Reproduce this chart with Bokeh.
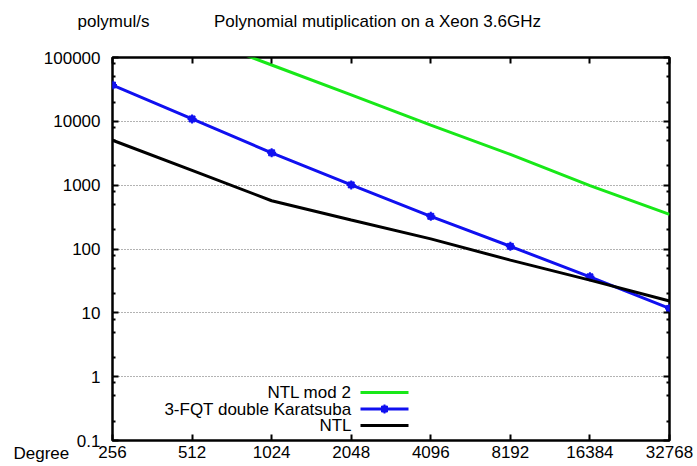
from bokeh.plotting import figure
from bokeh.models import Range1d, FixedTicker, CustomJSTickFormatter, LogAxis, Label
from bokeh.core.properties import value
from bokeh.embed import file_html
from bokeh.resources import INLINE

# ---- data ----
degrees = [256, 512, 1024, 2048, 4096, 8192, 16384, 32768]
fqt_karatsuba = [37000, 10900, 3210, 1010, 325, 110, 36.6, 11.7]
ntl = [5060, 1710, 570, 285, 144, 67, 32.5, 15.3]
ntl_mod2_degrees = [512, 1024, 2048, 4096, 8192, 16384, 32768]
ntl_mod2 = [225000, 76300, 25900, 8730, 3030, 985, 349]

series_names = ["NTL mod 2", "3-FQT double Karatsuba", "NTL"]
series_colors = ["#18e818", "#1010f0", "#000000"]
x_ticks = [256, 512, 1024, 2048, 4096, 8192, 16384, 32768]
y_ticks = [0.1, 1, 10, 100, 1000, 10000, 100000]
y_minor = [m * 10.0 ** e for e in range(-1, 5) for m in (2, 5, 8)]
title_text = "Polynomial mutiplication on a Xeon 3.6GHz"
ylabel_text = "polymul/s"
xlabel_text = "Degree"

W, H = 697, 466
L, R, T, B = 112, 28, 54, 26
FW, FH = W - L - R, H - T - B
FONT = "Liberation Sans"
FS = "17px"

XMIN, XMAX, YMIN, YMAX = 256, 32768, 0.1, 100000


def px_to_x(px):
    return XMIN * 2 ** ((px - L) / FW * 7)


def py_to_y(py):
    return 10 ** (5 - (py - T) / FH * 6)


def outside_label(px, py, text, align):
    # positioned through the data scales, so the panel it sits in does not matter
    return Label(x=px_to_x(px), y=py_to_y(py), text=text,
                 text_align=align, text_baseline="middle", text_font=FONT,
                 text_font_size=FS, text_color="black", text_line_height=0.85)


p = figure(width=W, height=H, x_axis_type="log", y_axis_type="log",
           x_range=Range1d(XMIN, XMAX), y_range=Range1d(YMIN, YMAX),
           output_backend="svg", toolbar_location=None,
           min_border_left=L, min_border_right=R, min_border_top=T, min_border_bottom=B)
p.background_fill_color = "white"
p.border_fill_color = "white"
p.outline_line_color = "black"
p.outline_line_width = 2.5

fmt = CustomJSTickFormatter(code="return tick < 1 ? tick.toFixed(1) : tick.toFixed(0);")
blank = CustomJSTickFormatter(code="return '';")

xt = FixedTicker(ticks=x_ticks, minor_ticks=[])
yt = FixedTicker(ticks=y_ticks, minor_ticks=y_minor)

for ax in (p.xaxis[0], p.yaxis[0]):
    ax.axis_line_color = None
    ax.major_tick_in = 6
    ax.major_tick_out = 0
    ax.minor_tick_in = 3
    ax.minor_tick_out = 0
    ax.major_tick_line_width = 2
    ax.minor_tick_line_width = 2
    ax.major_label_text_font = FONT
    ax.major_label_text_font_size = FS
    ax.major_label_text_color = "black"
    ax.formatter = fmt

p.xaxis[0].ticker = xt
p.yaxis[0].ticker = yt
p.xaxis[0].major_label_standoff = 5
p.yaxis[0].major_label_standoff = 12

top = LogAxis(ticker=xt, formatter=blank, axis_line_color=None, major_tick_in=6, major_tick_out=0,
              minor_tick_in=0, minor_tick_out=0, major_tick_line_width=2,
              major_label_standoff=0, major_label_text_font_size="1px")
right = LogAxis(ticker=yt, formatter=blank, axis_line_color=None, major_tick_in=6, major_tick_out=0,
                minor_tick_in=3, minor_tick_out=0, major_tick_line_width=2,
                minor_tick_line_width=2, major_label_standoff=0, major_label_text_font_size="1px")
p.add_layout(top, "above")
p.add_layout(right, "right")

p.xgrid.visible = False
p.ygrid.ticker = FixedTicker(ticks=y_ticks[1:-1])
p.ygrid.grid_line_color = "#666666"
p.ygrid.grid_line_dash = "1 2"
p.ygrid.grid_line_width = 1

# ---- series ----
p.line(ntl_mod2_degrees, ntl_mod2, line_color=series_colors[0], line_width=3)
p.line(degrees, fqt_karatsuba, line_color=series_colors[1], line_width=3)
p.scatter(degrees, fqt_karatsuba, marker="square", size=6, fill_color=series_colors[1],
          line_color=series_colors[1])
p.scatter(degrees, fqt_karatsuba, marker="cross", size=9, line_color=series_colors[1], line_width=2)
p.line(degrees, ntl, line_color=series_colors[2], line_width=3)

# ---- legend (gnuplot style: text right-aligned, sample to the right) ----
rows_py = [391.7, 408.3, 425.0]
for name, col, py in zip(series_names, series_colors, rows_py):
    y = py_to_y(py)
    p.text([px_to_x(351)], [y], text=[name], text_align="right", text_baseline="middle",
           text_font=value(FONT), text_font_size=FS, text_color="black")
    p.line([px_to_x(360), px_to_x(408)], [y, y], line_color=col, line_width=3)
    if name == "3-FQT double Karatsuba":
        p.scatter([px_to_x(384)], [y], marker="square", size=6, fill_color=col, line_color=col)
        p.scatter([px_to_x(384)], [y], marker="cross", size=9, line_color=col, line_width=2)

# ---- texts outside the frame (side-panel annotations are not clipped) ----
p.add_layout(outside_label(377, 18, title_text, "center"), "above")
p.add_layout(outside_label(113, 18, ylabel_text, "center"), "above")
p.add_layout(outside_label(13, 453, xlabel_text, "left"), "above")

open("out.html", "w").write(file_html(p, INLINE))
